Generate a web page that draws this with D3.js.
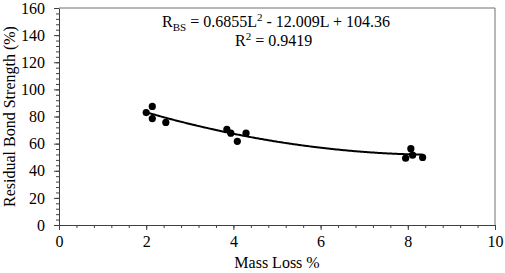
<!DOCTYPE html>
<html lang="en">
<head>
<meta charset="utf-8">
<title>Residual bond strength vs mass loss</title>
<script src="https://cdn.jsdelivr.net/npm/d3@7"></script>
<style>
  body { margin: 0; background: #fff; }
</style>
</head>
<body>
<div id="chart"></div>
<script>
// data
var massLoss = [2.0, 2.14, 2.14, 2.45, 3.85, 3.94, 4.09, 4.29, 7.95, 8.07, 8.11, 8.34];
var bondStrength = [82.9, 87.4, 78.5, 75.6, 70.5, 67.7, 61.7, 67.7, 49.3, 56.3, 51.5, 49.8];
// trendline coefficients (a L^2 + b L + c) as printed on the chart
var fitCoef = [0.6855, -12.009, 104.36];
var fitRange = [1.95, 8.35];
var xTicks = [0, 2, 4, 6, 8, 10];
var yTicks = [0, 20, 40, 60, 80, 100, 120, 140, 160];

var w = 505, h = 273;
var m = {left: 59, right: 10, top: 8, bottom: 48};
var serif = "Times New Roman, Liberation Serif, serif";

var svg = d3.select("#chart").append("svg")
    .attr("width", w).attr("height", h)
    .attr("font-family", serif);

var x = d3.scaleLinear().domain([0, 10]).range([m.left, w - m.right]);
var y = d3.scaleLinear().domain([0, 160]).range([h - m.bottom, m.top]);

// frame (top and right)
svg.append("path")
   .attr("d", "M" + x(0) + "," + y(160) + "H" + x(10) + "V" + y(0))
   .attr("fill", "none").attr("stroke", "#707070").attr("stroke-width", 1);

// minor ticks
svg.append("g")
   .attr("transform", "translate(0," + y(0) + ")")
   .call(d3.axisBottom(x).tickValues(d3.range(0, 10.01, 0.4)).tickSize(3).tickFormat(""))
   .call(function(g){ g.select(".domain").remove(); });
svg.append("g")
   .attr("transform", "translate(" + x(0) + ",0)")
   .call(d3.axisLeft(y).tickValues(d3.range(0, 160.1, 4)).tickSize(3).tickFormat(""))
   .call(function(g){ g.select(".domain").remove(); });

// major axes
svg.append("g")
   .attr("transform", "translate(0," + y(0) + ")")
   .call(d3.axisBottom(x).tickValues(xTicks).tickSize(5).tickSizeOuter(0).tickPadding(6));
svg.append("g")
   .attr("transform", "translate(" + x(0) + ",0)")
   .call(d3.axisLeft(y).tickValues(yTicks).tickSize(5).tickSizeOuter(0).tickPadding(9));

svg.selectAll("g").attr("font-family", serif);
svg.selectAll(".tick line").attr("stroke", "#404040");
svg.selectAll(".domain").attr("stroke", "#404040");
svg.selectAll(".tick text")
   .attr("font-size", 16).attr("fill", "#000");

// axis titles
svg.append("text")
   .attr("x", (x(0) + x(10)) / 2).attr("y", 268)
   .attr("text-anchor", "middle").attr("font-size", 16)
   .text("Mass Loss %");
svg.append("text")
   .attr("transform", "translate(15," + ((y(0) + y(160)) / 2) + ") rotate(-90)")
   .attr("text-anchor", "middle").attr("font-size", 16)
   .text("Residual Bond Strength (%)");

// trendline
var fitX = d3.range(fitRange[0], fitRange[1] + 0.001, 0.05);
var line = d3.line()
   .x(function(d){ return x(d); })
   .y(function(d){ return y(fitCoef[0] * d * d + fitCoef[1] * d + fitCoef[2]); })
   .curve(d3.curveBasis);
svg.append("path").datum(fitX)
   .attr("d", line).attr("fill", "none")
   .attr("stroke", "#000").attr("stroke-width", 2);

// points
svg.selectAll("circle.pt")
   .data(massLoss)
   .enter()
   .append("circle")
   .attr("class", "pt")
   .attr("cx", function(d){ return x(d); })
   .attr("cy", function(d, i){ return y(bondStrength[i]); })
   .attr("r", 3.6)
   .attr("fill", "#000");

// equation
var eq = svg.append("text").attr("x", 162).attr("y", 27).attr("font-size", 16);
eq.append("tspan").text("R");
eq.append("tspan").attr("dy", 4).attr("font-size", 11).text("BS");
eq.append("tspan").attr("dy", -4).text(" = 0.6855L");
eq.append("tspan").attr("dy", -6).attr("font-size", 11).text("2");
eq.append("tspan").attr("dy", 6).text(" - 12.009L + 104.36");

var r2 = svg.append("text").attr("x", 235).attr("y", 46).attr("font-size", 16);
r2.append("tspan").text("R");
r2.append("tspan").attr("dy", -6).attr("font-size", 11).text("2");
r2.append("tspan").attr("dy", 6).text(" = 0.9419");
</script>
</body>
</html>
